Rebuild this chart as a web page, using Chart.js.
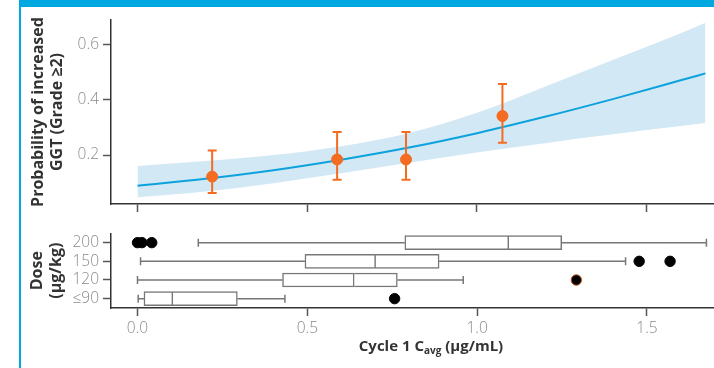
<!DOCTYPE html>
<html><head><meta charset="utf-8">
<script src="https://cdn.jsdelivr.net/npm/chart.js@4/dist/chart.umd.min.js"></script>
<style>
html,body{margin:0;padding:0;overflow:hidden;background:#fff;width:714px;height:368px;}
#c1{position:absolute;left:0;top:0;}
#c2{position:absolute;left:0;top:220px;}
#topbar{position:absolute;left:19px;top:0;width:695px;height:7px;background:#00a8e1;}
#leftbar{position:absolute;left:19px;top:0;width:2px;height:368px;background:#00a8e1;}
#xtitle{position:absolute;left:431px;top:335px;transform:translateX(-50%);font:bold 15px "Open Sans",sans-serif;color:#333;white-space:nowrap;}
#xtitle sub{font-size:10px;vertical-align:-3px;line-height:0;}
</style></head>
<body>
<canvas id="c1" width="751" height="220"></canvas>
<canvas id="c2" width="751" height="148"></canvas>
<div id="topbar"></div><div id="leftbar"></div>
<div id="xtitle">Cycle 1 C<sub>avg</sub> (µg/mL)</div>
<script>
// ---- data ----
const curveX    = [0, 0.2, 0.4, 0.6, 0.8, 1.0, 1.2, 1.4, 1.6, 1.673];
const curveY    = [0.089, 0.114, 0.145, 0.183, 0.227, 0.279, 0.338, 0.402, 0.470, 0.495];
const bandUpper = [0.160, 0.178, 0.200, 0.232, 0.280, 0.353, 0.447, 0.543, 0.640, 0.678];
const bandLower = [0.047, 0.068, 0.098, 0.134, 0.172, 0.209, 0.243, 0.275, 0.305, 0.316];
const obsX    = [0.220, 0.588, 0.791, 1.075];
const obsY    = [0.122, 0.184, 0.184, 0.341];
const obsLow  = [0.063, 0.111, 0.111, 0.244];
const obsHigh = [0.216, 0.283, 0.283, 0.457];
const probTicks = [0.2, 0.4, 0.6];
const doseLabels  = ['200', '150', '120', '≤90'];
const whiskerMin  = [0.179, 0.009, 0.000, 0.002];
const q1          = [0.787, 0.493, 0.427, 0.019];
const median      = [1.093, 0.701, 0.638, 0.104];
const q3          = [1.249, 0.888, 0.765, 0.294];
const whiskerMax  = [1.675, 1.437, 0.959, 0.434];
const outlierX    = [0.000, 0.013, 0.042, 1.477, 1.568, 1.292, 0.757];
const outlierDose = ['200', '200', '200', '150', '150', '120', '≤90'];
const xTicks = [0, 0.5, 1.0, 1.5];

const X_MIN = -0.078, X_MAX = 1.788;
const ORANGE = '#f36c21', BLUE = '#0ca3dd', BAND = '#d3e8f5';
const AXIS = '#333', TICKC = '#555', LABELC = '#8a8a8a', BOXC = '#777';

Chart.defaults.font.family = "'Open Sans', sans-serif";

const pts = (xs, ys) => xs.map((x, i) => ({x, y: ys[i]}));

const errorBars = {
  id: 'errorBars',
  afterDatasetDraw(chart, args) {
    if (args.index !== 1) return;
    const {ctx, scales: {x, y}} = chart;
    ctx.save();
    ctx.strokeStyle = ORANGE; ctx.lineWidth = 2;
    obsX.forEach((v, i) => {
      const px = x.getPixelForValue(v);
      const yl = y.getPixelForValue(obsLow[i]), yh = y.getPixelForValue(obsHigh[i]);
      ctx.beginPath();
      ctx.moveTo(px, yl); ctx.lineTo(px, yh);
      ctx.moveTo(px - 4.5, yl); ctx.lineTo(px + 4.5, yl);
      ctx.moveTo(px - 4.5, yh); ctx.lineTo(px + 4.5, yh);
      ctx.stroke();
    });
    ctx.restore();
  }
};

const gridOpts = {drawOnChartArea: false, drawTicks: true, tickLength: 8, tickColor: TICKC, tickWidth: 1.5, offset: false};
const borderOpts = {color: AXIS, width: 1.5};
const tickFont = {size: 15.5, weight: '300'};
const titleFont = {size: 16, weight: 'bold', lineHeight: 1.2};

new Chart(document.getElementById('c1'), {
  type: 'line',
  data: {
    datasets: [
      {type: 'scatter', data: pts(obsX, obsY), backgroundColor: ORANGE, borderColor: ORANGE, pointRadius: 5.5, pointHoverRadius: 5.5},
      {data: pts(curveX, curveY), borderColor: BLUE, borderWidth: 2, pointRadius: 0, fill: false, cubicInterpolationMode: 'monotone'},
      {data: pts(curveX, bandUpper), borderWidth: 0, borderColor: 'rgba(0,0,0,0)', pointRadius: 0, fill: false, cubicInterpolationMode: 'monotone'},
      {data: pts(curveX, bandLower), borderWidth: 0, borderColor: 'rgba(0,0,0,0)', pointRadius: 0, fill: '-1', backgroundColor: BAND, cubicInterpolationMode: 'monotone'}
    ]
  },
  options: {
    responsive: false, animation: false,
    layout: {padding: {top: 20, right: 0, bottom: 0, left: 0}},
    plugins: {legend: {display: false}, tooltip: {enabled: false}},
    scales: {
      x: {type: 'linear', min: X_MIN, max: X_MAX, offset: false,
          afterFit: s => { s.height = 16; },
          afterBuildTicks: s => { s.ticks = xTicks.map(v => ({value: v})); },
          ticks: {display: false},
          grid: gridOpts, border: borderOpts},
      y: {type: 'linear', min: 0.023, max: 0.688,
          afterFit: s => { s.width = 111; },
          afterBuildTicks: s => { s.ticks = probTicks.map(v => ({value: v})); },
          ticks: {padding: 4, color: LABELC, font: tickFont, callback: v => Number(v).toFixed(1)},
          grid: gridOpts, border: borderOpts,
          title: {display: true, text: ['Probability of increased', 'GGT (Grade ≥2)'], color: AXIS,
                  font: titleFont, padding: {top: 28.5, bottom: 0}}}
    }
  },
  plugins: [errorBars]
});

const whiskers = {
  id: 'whiskers',
  beforeDatasetsDraw(chart) {
    const {ctx, scales: {x, y}} = chart;
    ctx.save();
    ctx.strokeStyle = BOXC; ctx.lineWidth = 1.5;
    doseLabels.forEach((lab, i) => {
      const py = y.getPixelForValue(i);
      const a = x.getPixelForValue(whiskerMin[i]), b = x.getPixelForValue(q1[i]);
      const c = x.getPixelForValue(q3[i]), d = x.getPixelForValue(whiskerMax[i]);
      ctx.beginPath();
      ctx.moveTo(a, py); ctx.lineTo(b, py);
      ctx.moveTo(c, py); ctx.lineTo(d, py);
      ctx.moveTo(a, py - 4); ctx.lineTo(a, py + 4);
      ctx.moveTo(d, py - 4); ctx.lineTo(d, py + 4);
      ctx.stroke();
    });
    ctx.restore();
  }
};

new Chart(document.getElementById('c2'), {
  type: 'bar',
  data: {
    labels: doseLabels,
    datasets: [
      {type: 'scatter', data: outlierX.map((v, i) => ({x: v, y: outlierDose[i]})),
       backgroundColor: '#000', borderColor: outlierX.map((v, i) => i === 5 ? '#b8521c' : '#000'), borderWidth: 1,
       pointRadius: 5.2, pointHoverRadius: 5.2},
      {indexAxis: 'y', grouped: false, data: q1.map((v, i) => [v, median[i]]),
       backgroundColor: '#fff', borderColor: BOXC, borderWidth: 1.5, borderSkipped: false, barThickness: 14},
      {indexAxis: 'y', grouped: false, data: median.map((v, i) => [v, q3[i]]),
       backgroundColor: '#fff', borderColor: BOXC, borderWidth: 1.5, borderSkipped: 'left', barThickness: 14}
    ]
  },
  options: {
    responsive: false, animation: false,
    layout: {padding: {top: 12, right: 0, bottom: 0, left: 0}},
    plugins: {legend: {display: false}, tooltip: {enabled: false}},
    scales: {
      x: {type: 'linear', min: X_MIN, max: X_MAX, offset: false, beginAtZero: false,
          afterFit: s => { s.height = 60; },
          afterBuildTicks: s => { s.ticks = xTicks.map(v => ({value: v})); },
          ticks: {padding: 3, color: LABELC, font: tickFont, callback: v => Number(v).toFixed(1)},
          grid: gridOpts, border: borderOpts},
      y: {type: 'category', labels: doseLabels, offset: true,
          afterFit: s => { s.width = 111; },
          ticks: {padding: 4, color: LABELC, font: tickFont, autoSkip: false},
          grid: gridOpts, border: borderOpts,
          title: {display: true, text: ['Dose', '(µg/kg)'], color: AXIS,
                  font: titleFont, padding: {top: 27.5, bottom: 0}}}
    }
  },
  plugins: [whiskers]
});
</script>
</body></html>
